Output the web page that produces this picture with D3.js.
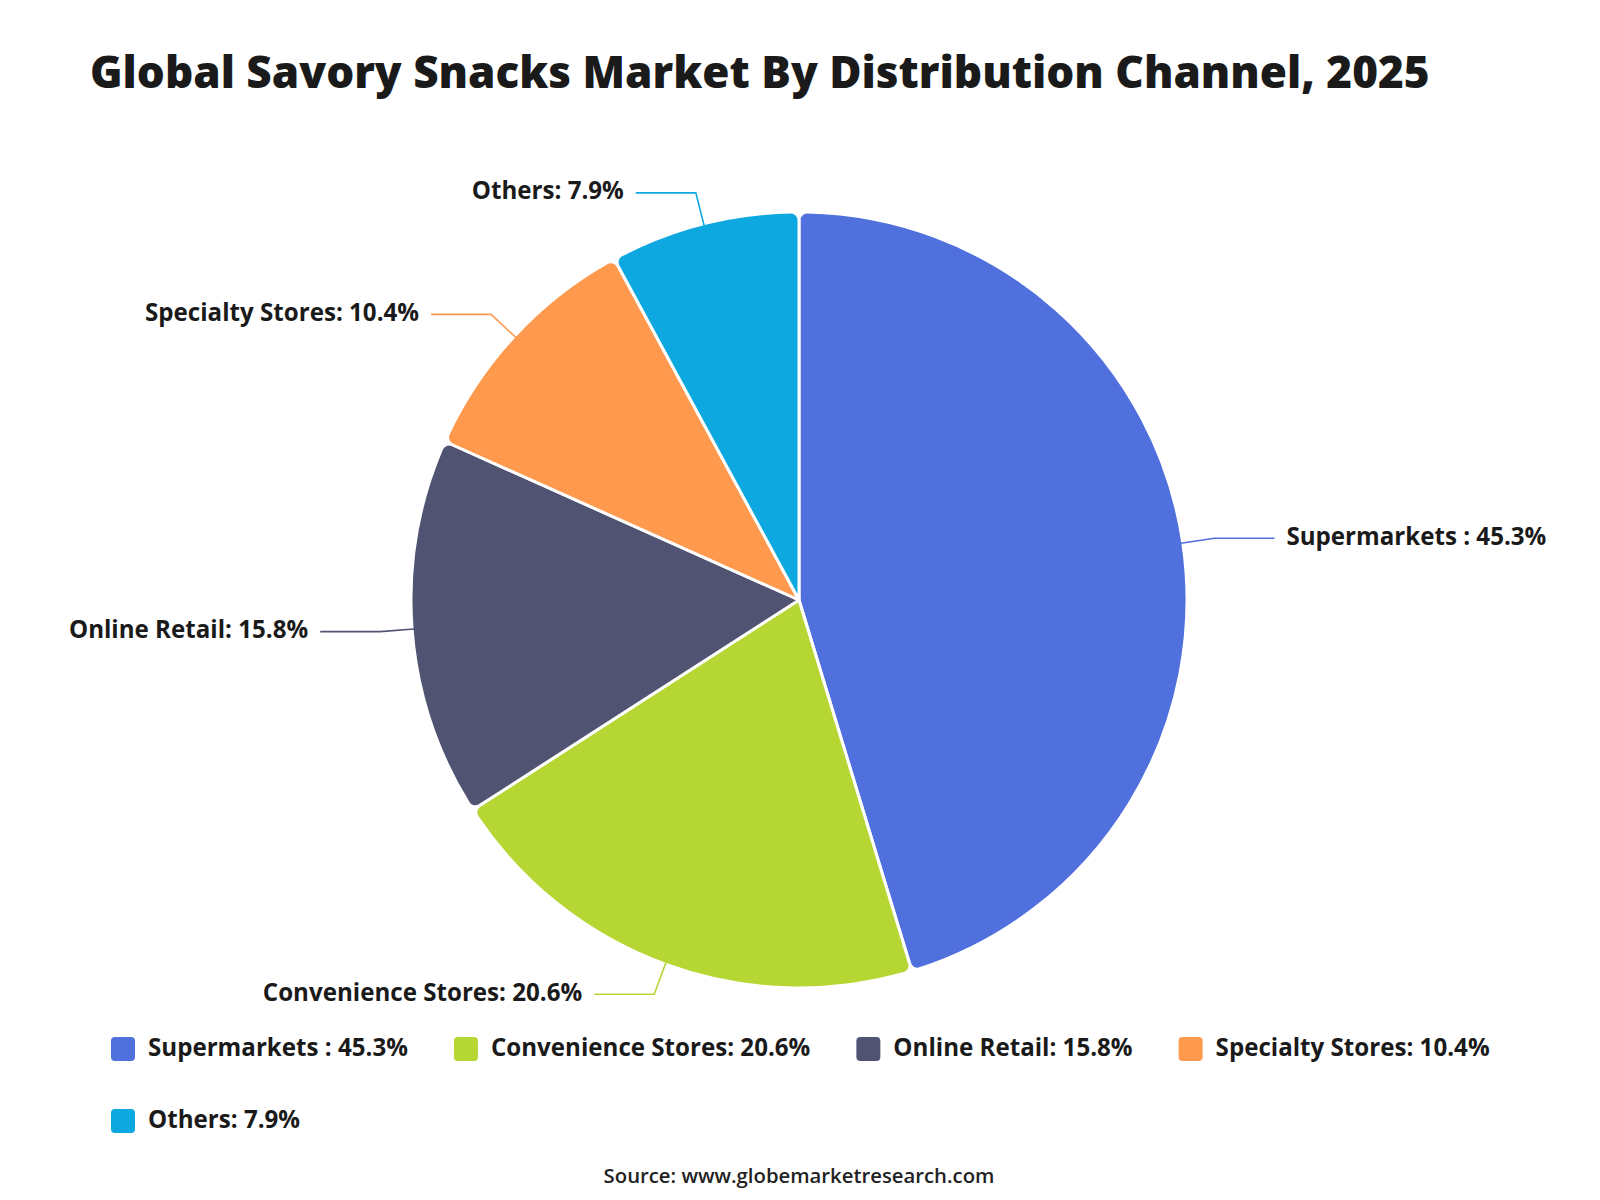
<!DOCTYPE html>
<html>
<head>
<meta charset="utf-8">
<script src="https://cdn.jsdelivr.net/npm/d3@7"></script>
<style>
  html, body { margin: 0; padding: 0; background: #ffffff; }
  svg { display: block; }
</style>
</head>
<body>
<svg id="chart" width="1600" height="1200"></svg>
<script>
// ---- Data ----
const titleText = "Global Savory Snacks Market By Distribution Channel, 2025";
const sourceText = "Source: www.globemarketresearch.com";
const categories = ["Supermarkets ", "Convenience Stores", "Online Retail", "Specialty Stores", "Others"];
const values = [45.3, 20.6, 15.8, 10.4, 7.9];
const colors = ["#5070dd", "#b6d634", "#505372", "#ff994d", "#0ca8df"];

const FONT = "'Open Sans', 'Noto Sans', sans-serif";
const svg = d3.select("#chart");

function fitSize(text, weight, base, target) {
  const t = svg.append("text").attr("font-family", FONT).attr("font-weight", weight)
    .attr("font-size", base).text(text);
  const w = t.node().getComputedTextLength();
  t.remove();
  return base * target / w;
}

// Title
const titleSize = fitSize(titleText, 800, 46, 1340);
svg.append("text")
  .attr("x", 90).attr("y", 88)
  .attr("font-family", FONT).attr("font-weight", 800)
  .attr("font-size", titleSize).attr("fill", "#1a1a1a")
  .text(titleText);

const labelOf = (i) => categories[i] + ": " + values[i] + "%";
const labelSize = fitSize(labelOf(0), 700, 22, 260);

// Pie
const cx = 799, cy = 600, R = 388;
const data = categories.map((c, i) => ({ name: c, value: values[i], color: colors[i], i }));
const pie = d3.pie().value(d => d.value).sort(null).startAngle(0).endAngle(2 * Math.PI);
const arcs = pie(data);
const arc = d3.arc().innerRadius(0).outerRadius(R).cornerRadius(8);

const g = svg.append("g").attr("transform", `translate(${cx},${cy})`);
g.selectAll("path.slice").data(arcs).join("path")
  .attr("class", "slice")
  .attr("d", arc)
  .attr("fill", d => d.data.color)
  .attr("stroke", "#ffffff")
  .attr("stroke-width", 3)
  .attr("stroke-linejoin", "round");

// Labels with leader lines
const len1 = 32, len2 = 60, gap = 12;
arcs.forEach(a => {
  const mid = (a.startAngle + a.endAngle) / 2;
  const sx = Math.sin(mid), sy = -Math.cos(mid);
  const p0 = [sx * (R - 2), sy * (R - 2)];
  const p1 = [sx * (R + len1), sy * (R + len1)];
  const right = sx >= 0;
  const p2 = [p1[0] + (right ? len2 : -len2), p1[1]];
  g.append("path")
    .attr("d", d3.line()([p0, p1, p2]))
    .attr("fill", "none")
    .attr("stroke", a.data.color)
    .attr("stroke-width", 1.6);
  g.append("text")
    .attr("x", p2[0] + (right ? gap : -gap))
    .attr("y", p2[1] - 2)
    .attr("dy", "0.35em")
    .attr("text-anchor", right ? "start" : "end")
    .attr("font-family", FONT).attr("font-weight", 700)
    .attr("font-size", labelSize).attr("fill", "#1a1a1a")
    .text(labelOf(a.data.i));
});

// Legend
const legend = svg.append("g");
const sq = 24, sqGap = 13, itemGap = 46, startX = 111, maxX = 1510;
let lx = startX, ly = 1049;
data.forEach((d, i) => {
  const t = legend.append("text")
    .attr("font-family", FONT).attr("font-weight", 700)
    .attr("font-size", labelSize).attr("fill", "#1a1a1a")
    .attr("dy", "0.35em")
    .text(labelOf(i));
  const tw = t.node().getComputedTextLength();
  if (lx + sq + sqGap + tw > maxX) { lx = startX; ly += 72; }
  legend.append("rect")
    .attr("x", lx).attr("y", ly - sq / 2)
    .attr("width", sq).attr("height", sq)
    .attr("rx", 4).attr("ry", 4)
    .attr("fill", d.color);
  t.attr("x", lx + sq + sqGap).attr("y", ly - 1);
  lx += sq + sqGap + tw + itemGap;
});

// Source
const srcSize = fitSize(sourceText, 600, 20, 391);
svg.append("text")
  .attr("x", 799).attr("y", 1176)
  .attr("dy", "0.35em")
  .attr("text-anchor", "middle")
  .attr("font-family", FONT).attr("font-weight", 600)
  .attr("font-size", srcSize).attr("fill", "#222222")
  .text(sourceText);
</script>
</body>
</html>
